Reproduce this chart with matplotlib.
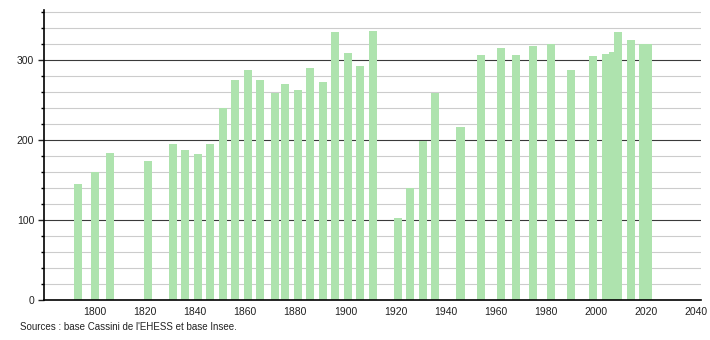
import matplotlib
matplotlib.use("Agg")
from matplotlib import pyplot as plt
import numpy as np

plt.rcParams['font.family'] = 'Liberation Sans'

# census years and population
years = [1793, 1800, 1806, 1821, 1831, 1836, 1841, 1846, 1851, 1856,
         1861, 1866, 1872, 1876, 1881, 1886, 1891, 1896, 1901, 1906,
         1911, 1921, 1926, 1931, 1936, 1946, 1954, 1962, 1968, 1975,
         1982, 1990, 1999, 2004, 2007, 2009, 2014, 2019, 2021]
population = [145, 160, 183, 173, 195, 187, 182, 195, 240, 274,
              287, 274, 258, 270, 262, 290, 272, 334, 308, 292,
              336, 102, 140, 199, 259, 216, 306, 314, 306, 317,
              319, 287, 304, 307, 310, 335, 325, 320, 320]
xticks = list(range(1800, 2041, 20))
source_text = "Sources : base Cassini de l'EHESS et base Insee."

fig = plt.figure(figsize=(7.1, 3.4), dpi=100)
ax = fig.add_axes([0.062, 0.1176, 0.925, 0.853])

# horizontal grid: light every 20, dark every 100
for v in range(20, 361, 20):
    if v % 100 == 0:
        ax.axhline(v, color='#3a3a3a', lw=0.8, zorder=1)
    else:
        ax.axhline(v, color='#cccccc', lw=0.8, zorder=1)

ax.bar(years, population, width=3.2, color='#aee3ae', zorder=2)

ax.set_xlim(1779.6, 2042)
ax.set_ylim(0, 362)
ax.set_xticks(xticks)
ax.set_yticks([0, 100, 200, 300])
ax.set_yticks(range(0, 361, 20), minor=True)
ax.tick_params(axis='x', length=0, labelsize=7.5, pad=5, colors='#222222')
ax.tick_params(axis='y', which='major', length=4, width=1, labelsize=7.5,
               pad=3, colors='#222222')
ax.tick_params(axis='y', which='minor', length=2, width=1)

for s in ['top', 'right']:
    ax.spines[s].set_visible(False)
ax.spines['left'].set_color('black')
ax.spines['bottom'].set_color('black')
ax.spines['left'].set_linewidth(1.2)
ax.spines['bottom'].set_linewidth(1.2)

fig.text(0.028, 0.028, source_text, fontsize=7, color='#222222')

plt.savefig('out.png', dpi=100)
